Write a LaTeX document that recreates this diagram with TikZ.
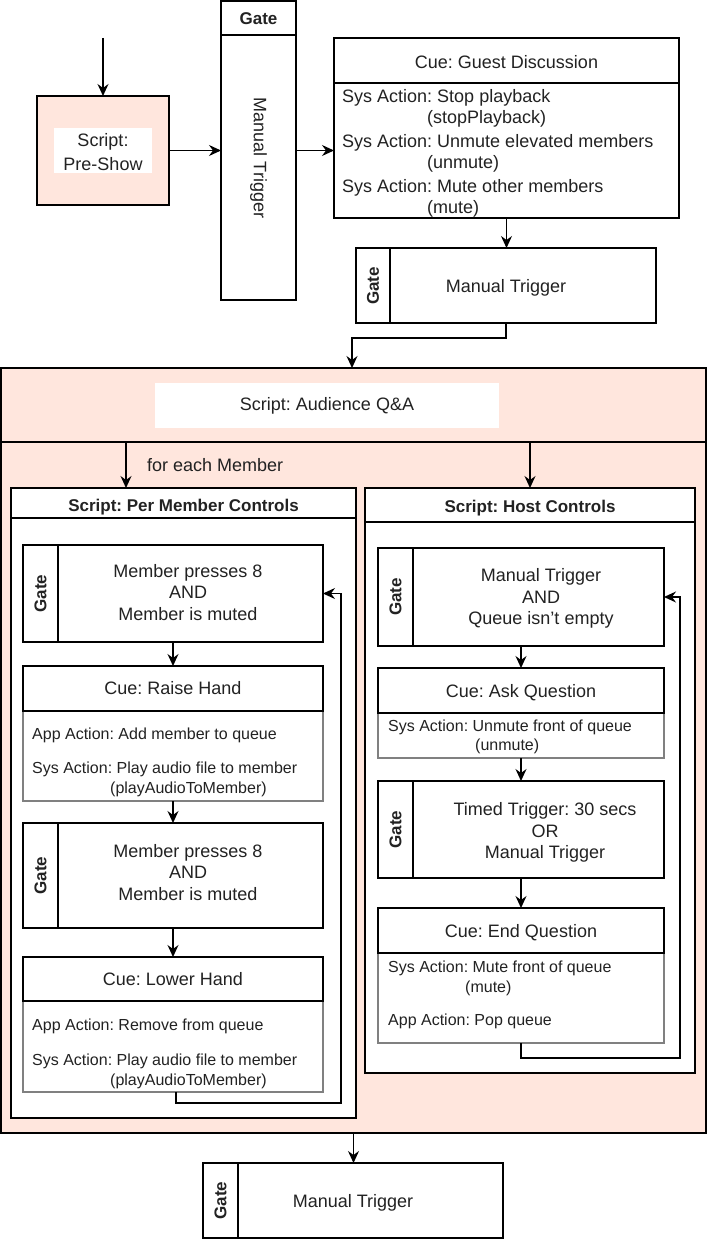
\documentclass[tikz,border=0pt]{standalone}
\usepackage{fontspec}
\setmainfont{Liberation Sans}
\usetikzlibrary{arrows.meta}
\definecolor{pinkbg}{HTML}{FFE6DD}
\definecolor{txt}{HTML}{222222}
\definecolor{graybd}{HTML}{808080}
\frenchspacing
\begin{document}
\begin{tikzpicture}[x=1pt,y=-1pt,
 bx/.style={draw=black, line width=1.3pt, inner sep=0pt, outer sep=0pt, anchor=north west, fill=white},
 bd/.style={draw=graybd, line width=1.1pt, inner sep=0pt, outer sep=0pt, anchor=north west, fill=white},
 big/.style={font=\fontsize{18}{21}\selectfont, text=txt, inner sep=0pt},
 bigl/.style={big, anchor=base west},
 bigc/.style={big, anchor=base},
 sm/.style={font=\fontsize{16}{19}\selectfont, text=txt, inner sep=0pt, anchor=base west},
 bl/.style={font=\fontsize{17}{20}\selectfont\bfseries, text=txt, inner sep=0pt, anchor=base},
 gl/.style={font=\fontsize{17}{20}\selectfont\bfseries, text=txt, inner sep=0pt, rotate=90},
 arr/.style={-{Stealth[length=12pt,width=11pt,inset=4pt]}, line width=1.3pt, draw=black},
 ln/.style={line width=1.3pt, draw=black}
]
\useasboundingbox (0,0) rectangle (710,1239);

% ---------- top row ----------
\coordinate (start) at (103,38);
\node[bx, fill=pinkbg, minimum width=132, minimum height=109] (pre) at (37,96) {};
\node[fill=white, inner sep=0pt, outer sep=0pt, anchor=north west, minimum width=98, minimum height=45] (prelbl) at (54,128) {};
\node[bigc] (pret1) at (103,146) {Script:};
\node[bigc] (pret2) at (103,170) {Pre-Show};

\node[bx, minimum width=75, minimum height=299] (g0) at (221,1) {};
\draw[ln] (221,35) -- (296,35);
\node[bl] (g0h) at (258.5,25) {Gate};
\node[big, rotate=-90] (g0t) at (258.5,158) {Manual Trigger};

\node[bx, minimum width=345, minimum height=45] (cgH) at (334,38) {};
\node[bx, minimum width=345, minimum height=135] (cgB) at (334,83) {};
\node[bigc] (cgt) at (506.5,69) {Cue: Guest Discussion};
\node[bigl] (cg1) at (342,102.5) {Sys Action: Stop playback};
\node[bigl] (cg2) at (427,123) {(stopPlayback)};
\node[bigl] (cg3) at (342,147.5) {Sys Action: Unmute elevated members};
\node[bigl] (cg4) at (427,168) {(unmute)};
\node[bigl] (cg5) at (342,192.5) {Sys Action: Mute other members};
\node[bigl] (cg6) at (427,213) {(mute)};

\node[bx, minimum width=300, minimum height=75] (g1) at (356,248) {};
\draw[ln] (390,248) -- (390,323);
\node[gl] (g1h) at (373,286) {Gate};
\node[bigc] (g1t) at (506,292) {Manual Trigger};

\draw[arr] (start) -- (pre.north);
\draw[arr] (pre) -- (g0);
\draw[arr] (g0) -- (cgB);
\draw[arr] (cgB.south) -- (cgB.south |- g1.north);

% ---------- container ----------
\node[bx, fill=pinkbg, minimum width=705, minimum height=765] (qa) at (1,368) {};
\draw[ln] (1,442) -- (706,442);
\node[fill=white, inner sep=0pt, outer sep=0pt, anchor=north west, minimum width=344, minimum height=45] (qalbl) at (155,383) {};
\node[big] (qat) at (327,405.5) {Script: Audience Q\&A};
\draw[arr] (g1.south) -- ++(0,15) -| ([xshift=-1.5pt]qa.north);

\coordinate (hdrL) at (126,442);
\coordinate (hdrR) at (530,442);
\node[bigl] (fem) at (147,471) {for each Member};

% ---------- per member ----------
\node[bx, minimum width=345, minimum height=630] (pm) at (11,488) {};
\draw[ln] (11,518) -- (356,518);
\node[bl] (pmt) at (183.5,511) {Script: Per Member Controls};

\node[bx, minimum width=300, minimum height=97] (mg1) at (23,545) {};
\draw[ln] (58,545) -- (58,642);
\node[gl] (mg1h) at (40.5,593.5) {Gate};
\node[bigc] (mg1a) at (188,577) {Member presses 8};
\node[bigc] (mg1b) at (188,598.5) {AND};
\node[bigc] (mg1c) at (188,620) {Member is muted};

\node[bd, minimum width=300, minimum height=90] (rhB) at (23,711) {};
\node[bx, minimum width=300, minimum height=45] (rhH) at (23,666) {};
\node[bigc] (rht) at (173,694) {Cue: Raise Hand};
\node[sm] (rh1) at (32,739) {App Action: Add member to queue};
\node[sm] (rh2) at (32,773) {Sys Action: Play audio file to member};
\node[sm] (rh3) at (110,793) {(playAudioToMember)};

\node[bx, minimum width=300, minimum height=105] (mg2) at (23,823) {};
\draw[ln] (58,823) -- (58,928);
\node[gl] (mg2h) at (40.5,875.5) {Gate};
\node[bigc] (mg2a) at (188,857) {Member presses 8};
\node[bigc] (mg2b) at (188,878.5) {AND};
\node[bigc] (mg2c) at (188,900) {Member is muted};

\node[bd, minimum width=300, minimum height=91] (lhB) at (23,1001) {};
\node[bx, minimum width=300, minimum height=44] (lhH) at (23,957) {};
\node[bigc] (lht) at (173,985) {Cue: Lower Hand};
\node[sm] (lh1) at (32,1030) {App Action: Remove from queue};
\node[sm] (lh2) at (32,1065) {Sys Action: Play audio file to member};
\node[sm] (lh3) at (110,1085) {(playAudioToMember)};

\coordinate (loopL) at (341,1103);

% ---------- host ----------
\node[bx, minimum width=330, minimum height=585] (hc) at (365,488) {};
\draw[ln] (365,522) -- (695,522);
\node[bl] (hct) at (530,512) {Script: Host Controls};

\node[bx, minimum width=286, minimum height=98] (hg1) at (378,548) {};
\draw[ln] (413,548) -- (413,646);
\node[gl] (hg1h) at (395.5,597) {Gate};
\node[bigc] (hg1a) at (541,581.5) {Manual Trigger};
\node[bigc] (hg1b) at (541,603) {AND};
\node[bigc] (hg1c) at (541,624.5) {Queue isn't empty};

\node[bd, minimum width=286, minimum height=45] (aqB) at (378,713) {};
\node[bx, minimum width=286, minimum height=45] (aqH) at (378,668) {};
\node[bigc] (aqt) at (521,697) {Cue: Ask Question};
\node[sm] (aq1) at (388,731) {Sys Action: Unmute front of queue};
\node[sm] (aq2) at (475,750) {(unmute)};

\node[bx, minimum width=286, minimum height=97] (hg2) at (378,781) {};
\draw[ln] (413,781) -- (413,878);
\node[gl] (hg2h) at (395.5,829.5) {Gate};
\node[bigc] (hg2a) at (545,815.5) {Timed Trigger: 30 secs};
\node[bigc] (hg2b) at (545,837) {OR};
\node[bigc] (hg2c) at (545,858.5) {Manual Trigger};

\node[bd, minimum width=286, minimum height=90] (eqB) at (378,953) {};
\node[bx, minimum width=286, minimum height=45] (eqH) at (378,908) {};
\node[bigc] (eqt) at (521,937) {Cue: End Question};
\node[sm] (eq1) at (388,972) {Sys Action: Mute front of queue};
\node[sm] (eq2) at (465,992) {(mute)};
\node[sm] (eq3) at (388,1025) {App Action: Pop queue};

\coordinate (loopR) at (680,1058);

% ---------- bottom gate ----------
\node[bx, minimum width=300, minimum height=75] (g2) at (203,1163) {};
\draw[ln] (238,1163) -- (238,1238);
\node[gl] (g2h) at (220.5,1200.5) {Gate};
\node[bigc] (g2t) at (353,1207) {Manual Trigger};

% ---------- connectors ----------
\draw[arr] (hdrL) -- (hdrL |- pm.north);
\draw[arr] (hdrR) -- (hdrR |- hc.north);
\draw[arr] (mg1.south) -- (rhH.north);
\draw[arr] (rhB.south) -- (mg2.north);
\draw[arr] (mg2.south) -- (lhH.north);
\draw[arr] ([xshift=3pt]lhB.south) |- (loopL) |- (mg1.east);
\draw[arr] (hg1.south) -- (aqH.north);
\draw[arr] (aqB.south) -- (hg2.north);
\draw[arr] (hg2.south) -- (eqH.north);
\draw[arr] (eqB.south) |- (loopR) |- (hg1.east);
\draw[arr] (qa.south) -- (qa.south |- g2.north);
\end{tikzpicture}
\end{document}
